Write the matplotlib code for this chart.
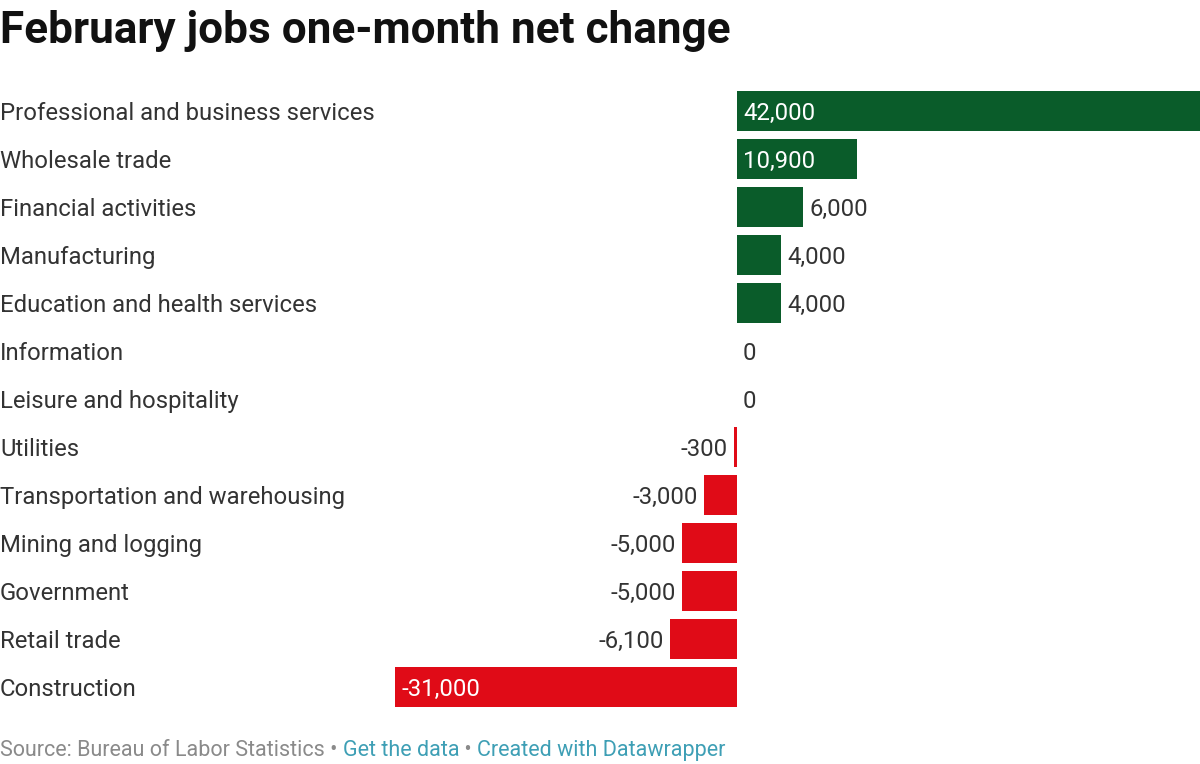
import numpy as np
import matplotlib.pyplot as plt

# data
categories = ['Professional and business services', 'Wholesale trade', 'Financial activities',
              'Manufacturing', 'Education and health services', 'Information',
              'Leisure and hospitality', 'Utilities', 'Transportation and warehousing',
              'Mining and logging', 'Government', 'Retail trade', 'Construction']
values = [42000, 10900, 6000, 4000, 4000, 0, 0, -300, -3000, -5000, -5000, -6100, -31000]
inside = [True, True, False, False, False, False, False, False, False, False, False, False, True]

green = '#0a5c2a'
red = '#e00b17'

plt.rcParams['font.family'] = ['Roboto', 'DejaVu Sans']

fig = plt.figure(figsize=(12, 7.64), dpi=100)
W, H = 1200, 764
# axes spans zero-line range: x 395..1200 px, y 87..711 px
ax = fig.add_axes([395 / W, (H - 711) / H, (1200 - 395) / W, 624 / H])

y = np.arange(len(categories))
colors = [green if v > 0 else red for v in values]
ax.barh(y, values, height=0.83, color=colors)
ax.set_xlim(-31000, 42000)
ax.set_ylim(len(categories) - 0.5, -0.5)
ax.axis('off')

fs = 17.2
pad = 550
for i, (v, ins) in enumerate(zip(values, inside)):
    lab = f'{v:,}'
    if ins:
        x0 = pad if v > 0 else v + pad
        ax.text(x0, i, lab, va='center_baseline', ha='left', color='white', fontsize=fs)
    elif v >= 0:
        ax.text(v + pad, i, lab, va='center_baseline', ha='left', color='#333333', fontsize=fs)
    else:
        ax.text(v - pad, i, lab, va='center_baseline', ha='right', color='#333333', fontsize=fs)

# category labels at figure left
for i, c in enumerate(categories):
    fig.text(0.0, (H - (111 + 48 * i)) / H, c, ha='left', va='center_baseline',
             fontsize=fs, color='#333333')

fig.text(0.0, (H - 26) / H, 'February jobs one-month net change', ha='left', va='center_baseline',
         fontsize=31.8, fontweight='bold', color='#111111')

# footer
fy = (H - 748) / H
t1 = fig.text(0.0, fy, 'Source: Bureau of Labor Statistics • ', ha='left', va='center_baseline',
              fontsize=15.5, color='#8a8a8a')
fig.canvas.draw()
bb = t1.get_window_extent()
t2 = fig.text(bb.x1 / W, fy, 'Get the data', ha='left', va='center_baseline',
              fontsize=15.5, color='#3e9fb5')
fig.canvas.draw()
bb = t2.get_window_extent()
t3 = fig.text(bb.x1 / W, fy, ' • ', ha='left', va='center_baseline',
              fontsize=15.5, color='#8a8a8a')
fig.canvas.draw()
bb = t3.get_window_extent()
fig.text(bb.x1 / W, fy, 'Created with Datawrapper', ha='left', va='center_baseline',
         fontsize=15.5, color='#3e9fb5')

fig.savefig('out.png', dpi=100, facecolor='white')
